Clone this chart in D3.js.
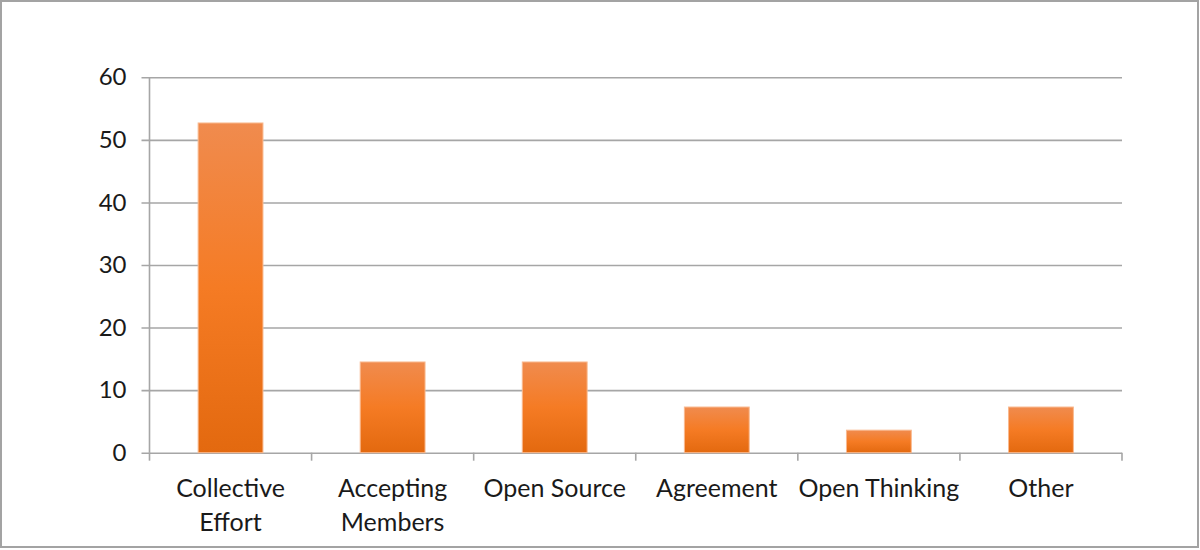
<!DOCTYPE html>
<html>
<head>
<meta charset="utf-8">
<script src="https://cdn.jsdelivr.net/npm/d3@7"></script>
<style>
  html, body { margin: 0; padding: 0; background: #fff; }
  svg { display: block; }
  text { font-family: Lato, "Open Sans", sans-serif; fill: #1a1a1a; }
</style>
</head>
<body>
<svg id="chart" width="1200" height="550"></svg>
<script>
const categories = [["Collective", "Effort"], ["Accepting", "Members"], ["Open Source"], ["Agreement"], ["Open Thinking"], ["Other"]];
const values = [52.7, 14.5, 14.5, 7.3, 3.6, 7.3];
const yTicks = [0, 10, 20, 30, 40, 50, 60];

(function () {
const svg = d3.select("#chart");
const W = 1200, H = 550;

const defs = svg.append("defs");
const grad = defs.append("linearGradient").attr("id", "barGrad")
  .attr("x1", 0).attr("y1", 0).attr("x2", 0).attr("y2", 1);
grad.append("stop").attr("offset", "0%").attr("stop-color", "#f08b4e");
grad.append("stop").attr("offset", "50%").attr("stop-color", "#f57b24");
grad.append("stop").attr("offset", "100%").attr("stop-color", "#e3690f");

// outer border
svg.append("rect").attr("x", 1).attr("y", 1).attr("width", W - 3).attr("height", H - 4)
  .attr("fill", "#fff").attr("stroke", "#a3a3a3").attr("stroke-width", 2);

const pLeft = 149.5, pRight = 1122, pTop = 77.3, pBottom = 452.7;
const keys = categories.map((c, i) => i);
const x = d3.scaleBand().domain(keys).range([pLeft, pRight]).paddingInner(0.6).paddingOuter(0.3);
const y = d3.scaleLinear().domain([0, 60]).range([pBottom, pTop]);

const gridColor = "#a6a6a6";

// gridlines (with ticks extending left)
const yAxis = d3.axisLeft(y).tickValues(yTicks).tickSize(pRight - pLeft + 8).tickFormat(d3.format("d")).tickPadding(14);
const gy = svg.append("g").attr("transform", `translate(${pRight},0)`).call(yAxis);
gy.select(".domain").remove();
gy.selectAll(".tick line").attr("stroke", gridColor).attr("stroke-width", 1.6);
gy.selectAll(".tick text").attr("font-size", 24).attr("fill", "#1a1a1a")
  .style("font-family", "Lato, 'Open Sans', sans-serif").attr("dx", -1);

// y axis line
svg.append("line").attr("x1", pLeft).attr("x2", pLeft).attr("y1", pTop).attr("y2", pBottom)
  .attr("stroke", gridColor).attr("stroke-width", 1.6);

// x-axis ticks at band boundaries
const boundaries = d3.range(categories.length + 1).map(i => pLeft + i * (pRight - pLeft) / categories.length);
svg.append("g").selectAll("line").data(boundaries).join("line")
  .attr("x1", d => d).attr("x2", d => d).attr("y1", pBottom).attr("y2", pBottom + 8)
  .attr("stroke", gridColor).attr("stroke-width", 1.6);

// bars
svg.append("g").selectAll("rect").data(values).join("rect")
  .attr("x", (d, i) => x(i))
  .attr("width", x.bandwidth())
  .attr("y", d => y(d))
  .attr("height", d => y(0) - y(d))
  .attr("fill", "url(#barGrad)")
  .attr("stroke", "#f9b98f").attr("stroke-width", 1);

// x labels
const lbl = svg.append("g").selectAll("text").data(categories).join("text")
  .attr("text-anchor", "middle")
  .attr("font-size", 25)
  .attr("x", (d, i) => x(i) + x.bandwidth() / 2)
  .attr("y", 497);
lbl.selectAll("tspan").data(d => d).join("tspan")
  .attr("x", function() { return d3.select(this.parentNode).attr("x"); })
  .attr("dy", (d, j) => j === 0 ? 0 : 34)
  .text(d => d);
})();
</script>
</body>
</html>
